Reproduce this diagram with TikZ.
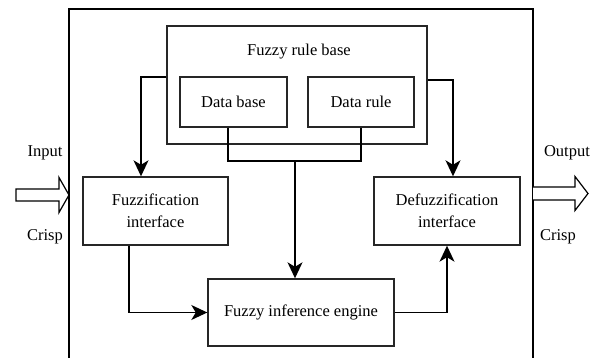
\documentclass[tikz,border=0pt]{standalone}
\usepackage{fontspec}
\setmainfont{Liberation Serif}
\usetikzlibrary{arrows.meta}
\begin{document}
\begin{tikzpicture}[x=1pt,y=-1pt,
  box/.style={draw=black!85,line width=1.4pt,inner sep=0pt,align=center,
    font=\fontsize{16.5}{22}\selectfont},
  txt/.style={inner sep=0pt,font=\fontsize{16.5}{22}\selectfont},
  wire/.style={draw=black,line width=1.4pt},
  arr/.style={wire,-{Stealth[length=16pt,width=15pt,inset=4.5pt]}},
  hollow/.style={draw=black,line width=1.2pt,fill=white,line join=miter}]
\useasboundingbox (0,0) rectangle (590,358);

% system frame, open at the bottom
\draw[line width=1.4pt] (69,360) -- (69,9) -- (533,9) -- (533,360);

% rule base with its two parts
\node[box,minimum width=260pt,minimum height=118pt] (rulebase) at (297,85) {};
\node[txt] (rbtitle) at (299,52) {Fuzzy rule base};
\node[box,minimum width=107pt,minimum height=50pt] (database) at (233.5,102) {Data base};
\node[box,minimum width=106pt,minimum height=50pt] (datarule) at (361,102) {Data rule};

% processing blocks
\node[box,minimum width=145pt,minimum height=68pt] (fuzz) at (155.5,211) {Fuzzification\\interface};
\node[box,minimum width=146pt,minimum height=68pt] (defuzz) at (447,211) {Defuzzification\\interface};
\node[box,minimum width=186pt,minimum height=67pt] (infer) at (301,312.5) {Fuzzy inference engine};

% knowledge base joins and feeds the inference engine
\coordinate (join) at (295,161);
\draw[wire] ([xshift=-5.5pt]database.south) |- (join) -| (datarule.south);
\draw[arr] (join) -- (join |- infer.north);

% rule base feeds both interfaces
\draw[arr] ([yshift=8pt]rulebase.west) -| ([xshift=-14.5pt]fuzz.north);
\draw[arr] ([yshift=5pt]rulebase.east) -| ([xshift=6pt]defuzz.north);

% fuzzification -> inference -> defuzzification
\draw[arr] ([xshift=-26.5pt]fuzz.south) |- (infer.west);
\draw[arr] (infer.east) -| (defuzz.south);

% crisp input and output
\draw[hollow] (16,189) -- (59,189) -- (59,177.5) -- (69,195) -- (59,212.5) -- (59,201) -- (16,201) -- cycle;
\draw[hollow] (533,187) -- (575,187) -- (575,176.5) -- (588,193.5) -- (575,210.5) -- (575,200) -- (533,200);
\node[txt] (inlbl) at (45,153) {Input};
\node[txt] (incrisp) at (45,237) {Crisp};
\node[txt] (outlbl) at (567,153) {Output};
\node[txt] (outcrisp) at (558,237) {Crisp};
\end{tikzpicture}
\end{document}
